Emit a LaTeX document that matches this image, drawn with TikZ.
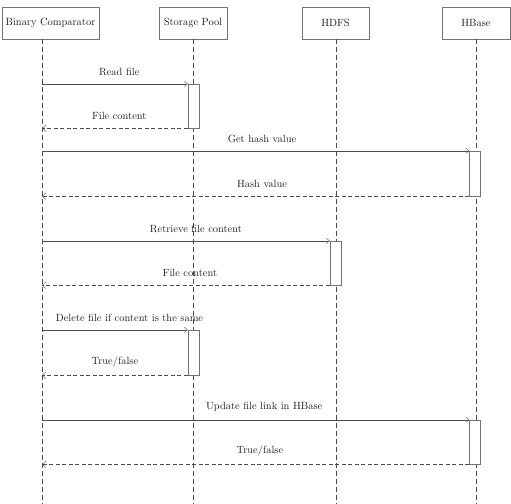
\documentclass[tikz,border=0pt]{standalone}
\usepackage{tikz}
\usetikzlibrary{positioning,arrows.meta,calc}
\definecolor{ink}{gray}{0.12}
\definecolor{line}{gray}{0.30}
\definecolor{frame}{gray}{0.45}
\tikzset{
  actor/.style={draw=frame, fill=white, minimum height=32bp, inner sep=2pt,
                font=\fontsize{10.5}{12}\selectfont, text=ink},
  life/.style={draw=line, dash pattern=on 5bp off 3bp},
  act/.style={draw=frame, fill=white, minimum width=11bp, inner sep=0pt},
  call/.style={draw=line, -{Straight Barb[length=1.1mm,width=1.8mm]}},
  reply/.style={draw=line, dash pattern=on 4bp off 2.5bp, -{Straight Barb[length=1.3mm,width=2.4mm]}},
  msg/.style={font=\fontsize{10.5}{12}\selectfont, text=ink, above, inner sep=2pt, yshift=6bp},
}

\begin{document}
\begin{tikzpicture}[x=1bp, y=-1bp]
        \useasboundingbox (0,0) rectangle (511,504);
        % participants
        \node[actor, minimum width=97bp] (bc) at (50.5,23) {Binary Comparator};
        \node[actor, minimum width=68bp] (sp) at (193,23) {Storage Pool};
        \node[actor, minimum width=67bp] (hd) at (335.5,23) {HDFS};
        \node[actor, minimum width=68bp] (hb) at (476,23) {HBase};
        % lifelines
        \coordinate (bcL) at (42,39);   \coordinate (bcE) at (42,504);
        \coordinate (spE) at (193,504); \coordinate (hdE) at (336,504);
        \coordinate (hbE) at (476,504);
        \draw[life] (bcL) -- (bcE);
        \draw[life] (sp.south) -- (spE);
        \draw[life] (hd.south -| hdE) -- (hdE);
        \draw[life] (hb.south) -- (hbE);
        % activations
        \node[act, minimum height=44bp] (a1) at (193.5,106) {};
        \node[act, minimum height=45bp] (a2) at (475,173.5) {};
        \node[act, minimum height=44bp] (a3) at (335.5,263) {};
        \node[act, minimum height=45bp] (a4) at (193.5,352.5) {};
        \node[act, minimum height=44bp] (a5) at (475,442) {};
        % messages
        \draw[call] (bcL |- a1.north) -- node[msg, pos=0.53] {Read file} (a1.north west);
        \draw[reply] (a1.south west) -- node[msg, pos=0.47] {File content} (bcL |- a1.south);
        \draw[call] (bcL |- a2.north) -- node[msg, pos=0.515] {Get hash value} (a2.north west);
        \draw[reply] (a2.south west) -- node[msg, pos=0.485] {Hash value} (bcL |- a2.south);
        \draw[call] (bcL |- a3.north) -- node[msg, pos=0.535] {Retrieve file content} (a3.north west);
        \draw[reply] (a3.south west) -- node[msg, pos=0.486] {File content} (bcL |- a3.south);
        \draw[call] (bcL |- a4.north) -- node[msg, pos=0.6] {Delete file if content is the same} (a4.north west);
        \draw[reply] (a4.south west) -- node[msg] {True/false} (bcL |- a4.south);
        \draw[call] (bcL |- a5.north) -- node[msg, pos=0.52] {Update file link in HBase} (a5.north west);
        \draw[reply] (a5.south west) -- node[msg, pos=0.49] {True/false} (bcL |- a5.south);
      \end{tikzpicture}
\end{document}
